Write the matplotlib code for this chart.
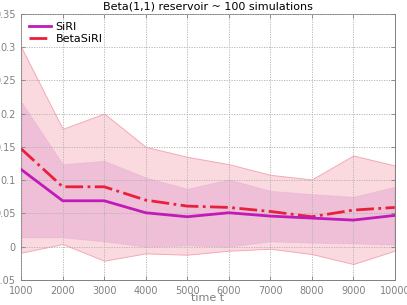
import matplotlib
matplotlib.use('Agg')
import matplotlib.pyplot as plt
import numpy as np

t = [1000, 2000, 3000, 4000, 5000, 6000, 7000, 8000, 9000, 10000]

siri = [0.116, 0.069, 0.069, 0.051, 0.045, 0.051, 0.046, 0.043, 0.040, 0.047]
siri_hi = [0.218, 0.124, 0.129, 0.104, 0.087, 0.101, 0.084, 0.079, 0.075, 0.090]
siri_lo = [0.014, 0.014, 0.008, 0.000, 0.002, 0.000, 0.008, 0.006, 0.005, 0.003]

beta = [0.147, 0.090, 0.090, 0.070, 0.061, 0.059, 0.053, 0.045, 0.055, 0.059]
beta_hi = [0.300, 0.177, 0.200, 0.150, 0.135, 0.124, 0.108, 0.101, 0.137, 0.122]
beta_lo = [-0.009, 0.004, -0.021, -0.010, -0.012, -0.006, -0.003, -0.011, -0.026, -0.006]

c_siri = '#c01ab8'
c_beta = '#e8203c'
gray = '#808080'

fig = plt.figure(figsize=(4.07, 3.05), dpi=100)
ax = fig.add_axes([0.052, 0.082, 0.918, 0.873])

ax.fill_between(t, beta_lo, beta_hi, color='#fadadf', lw=0.7, edgecolor='#f4a8b8', zorder=1)
ax.fill_between(t, siri_lo, siri_hi, color='#d070c0', alpha=0.25, lw=0.7, edgecolor='#d898d0', zorder=2)
ax.plot(t, siri, color=c_siri, lw=2, label='SiRI', zorder=4)
ax.plot(t, beta, color=c_beta, lw=2, ls='-.', label='BetaSiRI', zorder=3)

ax.set_xlim(1000, 10000)
ax.set_ylim(-0.05, 0.35)
ax.set_xticks(t)
ax.set_yticks(np.arange(-0.05, 0.36, 0.05))
ax.set_yticklabels(['-0.05', '0', '0.05', '0.1', '0.15', '0.2', '0.25', '0.3', '0.35'])
ax.grid(True, ls=(0, (1.5, 1.5)), color='#b0b0b0', lw=0.6)
ax.set_axisbelow(False)
for s in ax.spines.values():
    s.set_color(gray)
    s.set_linewidth(0.7)
ax.tick_params(colors=gray, labelsize=7, length=3, width=0.6, direction='in', top=True, right=True, pad=4)
ax.set_title('Beta(1,1) reservoir ~ 100 simulations', fontsize=8, pad=3)
ax.set_xlabel('time t', fontsize=8, color=gray, labelpad=-2)
ax.legend(loc='upper left', frameon=False, fontsize=8, handlelength=2.0,
          borderaxespad=0.3, labelspacing=0.2, handletextpad=0.4)

plt.savefig('out.png', dpi=100)
